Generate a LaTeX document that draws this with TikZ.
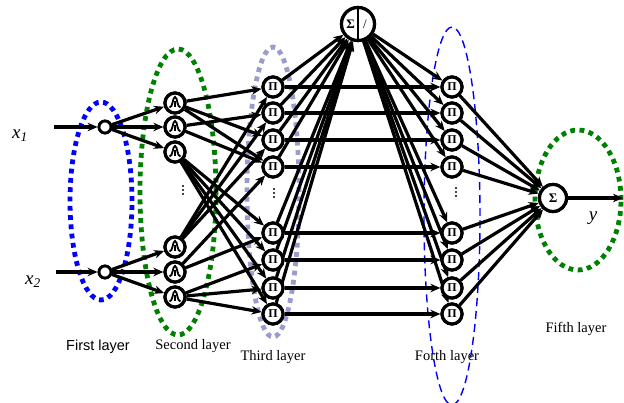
\documentclass[tikz,border=0pt]{standalone}
\usepackage{fontspec}
\setmainfont{Liberation Serif}
\newfontfamily\arialfont{Liberation Sans}
\usetikzlibrary{arrows.meta}
\begin{document}
\begin{tikzpicture}[x=1pt,y=-1pt,
  conn/.style={line width=3.2pt,-{Stealth[length=10pt,width=8.5pt]}},
  inp/.style={circle,draw,line width=2.8pt,fill=white,minimum size=12pt,inner sep=0pt},
  mf/.style={circle,draw,line width=3.2pt,fill=white,minimum size=20pt,inner sep=0pt},
  pinode/.style={circle,draw,line width=3.2pt,fill=white,minimum size=20pt,inner sep=0pt,font=\fontsize{12}{12}\selectfont\bfseries},
  sumnode/.style={circle,draw,line width=3.2pt,fill=white,minimum size=27pt,inner sep=0pt,font=\fontsize{13}{13}\selectfont\bfseries},
  dotring/.style={line width=4.8pt,dash pattern=on 4.8pt off 4.5pt},
  lab/.style={font=\fontsize{14.5}{14.5}\selectfont},
  varlab/.style={font=\fontsize{19}{19}\selectfont\itshape}
]
\useasboundingbox (0,0) rectangle (624,403);

% layer rings
\draw[dotring,blue] (101,201) ellipse [x radius=31pt, y radius=99pt];
\draw[dotring,green!50!black] (178,192) ellipse [x radius=38pt, y radius=143pt];
\draw[dotring,color={rgb,255:red,155;green,155;blue,205}] (273,192) ellipse [x radius=26pt, y radius=145pt];
\draw[blue,line width=1.4pt,dash pattern=on 8pt off 5pt] (452,216) ellipse [x radius=28pt, y radius=189pt];
\draw[dotring,green!50!black] (578,200) ellipse [x radius=43pt, y radius=70pt];

% inputs
\coordinate (in1) at (54,127);
\coordinate (in2) at (56,272);
\node[inp] (a1) at (105,127) {};
\node[inp] (a2) at (105,272) {};

% second layer
\foreach \i/\y in {1/103,2/127,3/152,4/247,5/272,6/297}
  \node[mf] (b\i) at (175,\y) {};

% third and fourth layers
\foreach \i/\y in {1/87,2/113,3/140,4/167,5/233,6/260,7/288,8/314}{
  \node[pinode] (c\i) at (273,\y) {Π};
  \node[pinode] (d\i) at (452,\y) {Π};
}

% continuation dots
\foreach \x/\y in {183/190,274/193,456/192}
  \foreach \k in {-4,0,4} \fill (\x,\y+\k) circle (1.2pt);

% normalisation node and output node
\node[sumnode,minimum size=33pt] (n) at (358,24) {};
\node[sumnode] (s) at (553,198) {Σ};
\coordinate (out) at (623,198);

% connectors
\draw[conn] (in1) -- (a1);
\draw[conn] (in2) -- (a2);
\foreach \j in {1,2,3} \draw[conn] (a1) -- (b\j);
\foreach \j in {4,5,6} \draw[conn] (a2) -- (b\j);

\foreach \a/\b in {1/1,1/3,1/4,2/2,2/4,3/5,3/6,3/7,3/8,4/1,4/2,4/3,5/4,5/5,6/6,6/7,6/8}
  \draw[conn] (b\a) -- (c\b);

\foreach \i in {1,...,8}{
  \draw[conn] (c\i) -- (n);
  \draw[conn] (n) -- (d\i);
  \draw[conn] (c\i) -- (d\i);
  \draw[conn] (d\i) -- (s);
}
\draw[conn] (s) -- (out);

% redraw nodes on top
\foreach \i in {1,...,6}{
  \node[mf] at (b\i) {};
  \draw[line width=1.8pt,shift={(b\i)}] (-5.5,4.5) .. controls (-2,4.5) and (-2.5,-6) .. (0,-6) .. controls (2.5,-6) and (2,4.5) .. (5.5,4.5);
  \draw[line width=1.8pt,shift={(b\i)}] (0,-2) -- (0,4.5);
}
\foreach \i in {1,...,8}{
  \node[pinode] at (c\i) {Π};
  \node[pinode] at (d\i) {Π};
}
\node[inp] at (a1) {};
\node[inp] at (a2) {};
\node[sumnode,minimum size=33pt] at (n) {};
\draw[line width=2pt] (358,8) -- (358,40);
\node[font=\fontsize{13}{13}\selectfont\bfseries] (nsig) at (350.5,24) {Σ};
\node[font=\fontsize{13}{13}\selectfont] (nsl) at (365,24) {/};
\node[sumnode] at (s) {Σ};

% labels
\node[varlab] (lx1) at (20,136) {x\textsubscript{1}};
\node[varlab] (lx2) at (33,282) {x\textsubscript{2}};
\node[varlab] (ly) at (593,218) {y};
\node[lab,font=\arialfont\fontsize{14.5}{14.5}\selectfont] (l1) at (98,347) {First layer};
\node[lab] (l2) at (193,346) {Second layer};
\node[lab] (l3) at (273,357) {Third layer};
\node[lab] (l4) at (447,357) {Forth layer};
\node[lab] (l5) at (576,329) {Fifth layer};
\end{tikzpicture}
\end{document}
